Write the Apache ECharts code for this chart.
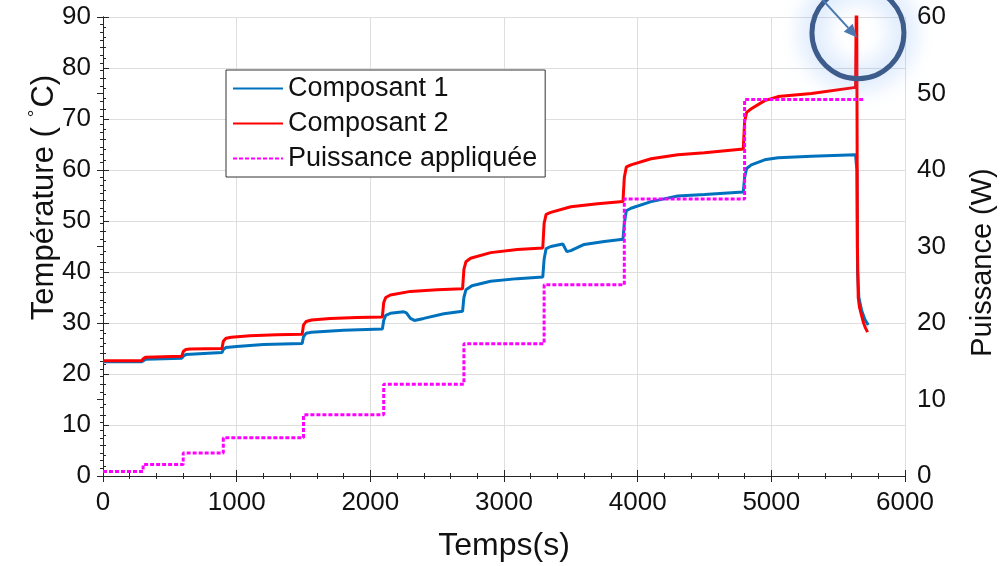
<!DOCTYPE html>
<html lang="fr">
<head>
    <meta charset="UTF-8">
    <title>Température et puissance</title>
    <script src="https://cdn.jsdelivr.net/npm/echarts@6/dist/echarts.min.js"></script>
    <style>
        html, body { margin: 0; padding: 0; background: #fff; }
        #main { width: 1006px; height: 566px; }
    </style>
</head>
<body>
<div id="main"></div>
<script type="text/javascript">
    // Composant 1 (bleu)
    var timeC1 = [0, 290, 300, 320, 590, 600, 620, 890, 900, 920, 1000, 1200, 1490, 1500, 1520, 1560, 1800, 2090,
        2100, 2115, 2150, 2250, 2270, 2300, 2330, 2400, 2550, 2690, 2700, 2715, 2760, 2900, 3100, 3290,
        3300, 3315, 3350, 3440, 3470, 3500, 3600, 3750, 3890, 3900, 3915, 3950, 4100, 4300, 4500, 4790,
        4800, 4815, 4850, 4950, 5050, 5300, 5630, 5640, 5645, 5655, 5675, 5700, 5725];
    var tempC1 = [22.4, 22.4, 22.7, 22.9, 23.1, 23.5, 23.8, 24.2, 24.8, 25.2, 25.4, 25.8, 26.0, 27.3, 28.0, 28.2, 28.6, 28.8,
        30.5, 31.5, 31.9, 32.2, 32.0, 30.9, 30.5, 30.9, 31.8, 32.3, 35.0, 36.5, 37.3, 38.2, 38.7, 39.0,
        42.5, 44.6, 45.0, 45.5, 44.0, 44.2, 45.4, 46.0, 46.4, 49.5, 52.0, 52.5, 53.8, 54.9, 55.2, 55.7,
        58.5, 60.3, 61.0, 62.0, 62.4, 62.7, 63.0, 60.0, 40.0, 35.0, 32.5, 30.7, 29.6];

    // Composant 2 (rouge)
    var timeC2 = [0, 290, 300, 320, 590, 600, 620, 650, 890, 900, 920, 960, 1100, 1300, 1490, 1500, 1520, 1560, 1700, 1900,
        2090, 2100, 2115, 2150, 2300, 2500, 2690, 2700, 2715, 2750, 2900, 3100, 3290, 3300, 3315, 3350, 3500,
        3700, 3890, 3900, 3915, 3950, 4100, 4300, 4500, 4790, 4800, 4815, 4850, 4950, 5050, 5300, 5630,
        5638, 5644, 5650, 5660, 5675, 5690, 5705, 5720];
    var tempC2 = [22.6, 22.6, 23.0, 23.3, 23.5, 24.4, 24.8, 24.9, 25.0, 26.4, 27.0, 27.2, 27.5, 27.7, 27.8, 29.6, 30.3, 30.6, 30.9, 31.1,
        31.2, 34.0, 35.0, 35.5, 36.2, 36.5, 36.7, 40.5, 42.0, 42.7, 43.8, 44.4, 44.7, 49.5, 51.3, 51.7, 52.8,
        53.4, 53.8, 58.5, 60.6, 61.0, 62.2, 63.0, 63.4, 64.1, 69.5, 71.3, 72.0, 73.6, 74.4, 75.0, 76.2,
        100, 45.0, 35.0, 33.0, 31.5, 30.0, 29.0, 28.2];

    // Puissance appliquée (paliers)
    var stepTimes = [0, 300, 600, 900, 1500, 2100, 2700, 3300, 3900, 4800, 5700];
    var powerLevels = [0.6, 1.5, 3, 5, 8, 12, 17.3, 25, 36.2, 49.2];

    var xTicks = [0, 1000, 2000, 3000, 4000, 5000, 6000];

    function pairs(t, v) {
        var out = [];
        for (var i = 0; i < t.length; i++) out.push([t[i], v[i]]);
        return out;
    }
    var powerData = [];
    for (var i = 0; i < powerLevels.length; i++) powerData.push([stepTimes[i], powerLevels[i]]);
    powerData.push([stepTimes[stepTimes.length - 1], powerLevels[powerLevels.length - 1]]);

    var FONT = 'Liberation Sans';
    var AXC = '#262626';
    var TXT = '#111';

    var myChart = echarts.init(document.getElementById('main'));
    var option = {
        animation: false,
        textStyle: { fontFamily: FONT },
        grid: { left: 103, right: 101, top: 17, bottom: 90, containLabel: false, outerBoundsMode: 'none' },
        legend: {
            orient: 'vertical',
            left: 226,
            top: 70,
            padding: [5, 8, 5, 6],
            itemWidth: 50,
            itemHeight: 14,
            itemGap: 8,
            backgroundColor: '#fff',
            borderColor: '#333',
            borderWidth: 1,
            borderRadius: 0,
            itemStyle: { opacity: 0 },
            textStyle: { fontSize: 27, color: TXT, fontFamily: FONT },
            data: ['Composant 1', 'Composant 2', 'Puissance appliquée']
        },
        xAxis: [{
            type: 'value',
            min: xTicks[0], max: xTicks[xTicks.length - 1], interval: 1000,
            name: 'Temps(s)',
            nameLocation: 'middle',
            nameGap: 54,
            nameMoveOverlap: false,
            nameTextStyle: { fontSize: 32, color: TXT, fontFamily: FONT },
            axisLine: { show: true, lineStyle: { color: AXC, width: 1 } },
            axisTick: { show: true, inside: true, length: 6, lineStyle: { color: AXC } },
            minorTick: { show: true, splitNumber: 5, length: 3, lineStyle: { color: AXC } },
            axisLabel: { fontSize: 26, color: TXT, margin: 14, fontFamily: FONT, formatter: function (v) { return String(v); } },
            splitLine: { show: true, lineStyle: { color: '#dedede', width: 1 } }
        }, {
            type: 'value', position: 'top',
            min: xTicks[0], max: xTicks[xTicks.length - 1], interval: 1000,
            axisLine: { show: true, lineStyle: { color: AXC, width: 1 } },
            axisTick: { show: true, inside: true, length: 6, lineStyle: { color: AXC } },
            minorTick: { show: true, splitNumber: 5, length: 3, lineStyle: { color: AXC } },
            axisLabel: { show: false },
            splitLine: { show: false }
        }],
        yAxis: [{
            type: 'value',
            min: 0, max: 90, interval: 10,
            name: 'Température ({sup|°}C)',
            nameLocation: 'middle',
            nameRotate: 90,
            nameGap: 40,
            nameMoveOverlap: false,
            nameTextStyle: {
                fontSize: 31, color: TXT, fontFamily: FONT,
                padding: [0, 0, 0, 98],
                rich: { sup: { fontSize: 19, color: TXT, fontFamily: FONT, padding: [0, 2, 18, 10] } }
            },
            axisLine: { show: true, lineStyle: { color: AXC, width: 1 } },
            axisTick: { show: true, inside: true, length: 6, lineStyle: { color: AXC } },
            minorTick: { show: true, splitNumber: 5, length: 3, lineStyle: { color: AXC } },
            axisLabel: { fontSize: 26, color: TXT, margin: 12, fontFamily: FONT },
            splitLine: { show: true, lineStyle: { color: '#dedede', width: 1 } }
        }, {
            type: 'value',
            min: 0, max: 60, interval: 10,
            position: 'right',
            name: 'Puissance (W)',
            nameLocation: 'middle',
            nameRotate: 90,
            nameGap: 63,
            nameMoveOverlap: false,
            nameTextStyle: { fontSize: 29, color: TXT, fontFamily: FONT, padding: [0, 32, 0, 0] },
            axisLine: { show: true, lineStyle: { color: AXC, width: 1 } },
            axisTick: { show: true, inside: true, length: 6, lineStyle: { color: AXC } },
            minorTick: { show: true, splitNumber: 10, length: 3, lineStyle: { color: AXC } },
            axisLabel: { fontSize: 26, color: TXT, margin: 12, fontFamily: FONT },
            splitLine: { show: false }
        }],
        series: [{
            name: 'Composant 1',
            type: 'line',
            xAxisIndex: 0, yAxisIndex: 0,
            symbol: 'none', showSymbol: false,
            data: pairs(timeC1, tempC1),
            lineStyle: { color: '#0072bd', width: 3 },
            itemStyle: { color: '#0072bd' }
        }, {
            name: 'Composant 2',
            type: 'line',
            xAxisIndex: 0, yAxisIndex: 0,
            symbol: 'none', showSymbol: false,
            data: pairs(timeC2, tempC2),
            lineStyle: { color: '#ff0000', width: 3 },
            itemStyle: { color: '#ff0000' }
        }, {
            name: 'Puissance appliquée',
            type: 'line',
            xAxisIndex: 0, yAxisIndex: 1,
            symbol: 'none', showSymbol: false,
            step: 'end',
            data: powerData,
            lineStyle: { color: '#ff00ff', width: 3, type: [4, 2] },
            itemStyle: { color: '#ff00ff' }
        }]
    };
    myChart.setOption(option);

    // annotation : cercle + flèche vers le pic du composant 2
    var c = myChart.convertToPixel({ xAxisIndex: 0, yAxisIndex: 0 }, [5648, 86.9]);
    var tip = myChart.convertToPixel({ xAxisIndex: 0, yAxisIndex: 0 }, [5641, 86.0]);
    var tail = myChart.convertToPixel({ xAxisIndex: 0, yAxisIndex: 0 }, [5379, 93.5]);
    var ang = Math.atan2(tip[1] - tail[1], tip[0] - tail[0]);
    var hl = 13, hw = 6;
    var bx = tip[0] - hl * Math.cos(ang), by = tip[1] - hl * Math.sin(ang);
    var px = -Math.sin(ang), py = Math.cos(ang);
    myChart.setOption({
        graphic: [{
            type: 'circle', z: 100,
            shape: { cx: c[0], cy: c[1], r: 46 },
            style: { fill: 'none', stroke: '#3d5c8c', lineWidth: 5, shadowBlur: 26, shadowColor: 'rgba(90,155,240,1)' }
        }, {
            type: 'line', z: 101,
            shape: { x1: tail[0], y1: tail[1], x2: bx, y2: by },
            style: { stroke: '#4a78b0', lineWidth: 2 }
        }, {
            type: 'polygon', z: 101,
            shape: { points: [[tip[0], tip[1]], [bx + px * hw, by + py * hw], [bx - px * hw, by - py * hw]] },
            style: { fill: '#4a78b0' }
        }]
    });
</script>
</body>
</html>
